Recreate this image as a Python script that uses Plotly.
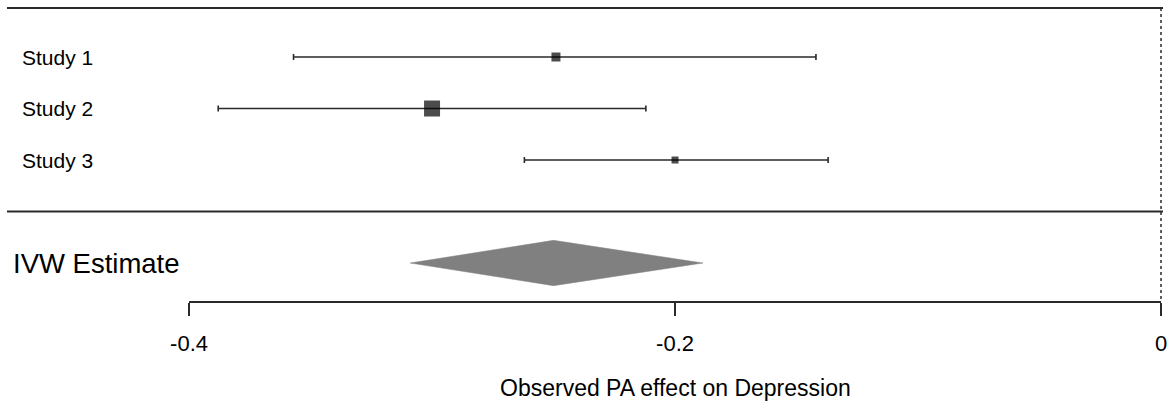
import plotly.graph_objects as go

# ---- data ----
studies = ["Study 1", "Study 2", "Study 3"]
estimates = [-0.249, -0.300, -0.200]
ci_low = [-0.357, -0.388, -0.262]
ci_high = [-0.142, -0.212, -0.137]
marker_sizes = [9, 16, 7]

pooled_label = "IVW Estimate"
pooled_est = -0.250
pooled_low = -0.309
pooled_high = -0.1885

tick_vals = [-0.4, -0.2, 0]
tick_text = ["-0.4", "-0.2", "0"]
x_title = "Observed PA effect on Depression"

FONT = "Liberation Sans, Arial, sans-serif"
LINE = "#2a2a2a"

rows = [1, 2, 3]
pooled_row = 5
diamond_half = 0.44

fig = go.Figure()

# confidence intervals
fig.add_trace(go.Scatter(
    x=estimates, y=rows, mode="markers",
    marker=dict(size=0, opacity=0),
    error_x=dict(type="data", symmetric=False,
                 array=[h - e for h, e in zip(ci_high, estimates)],
                 arrayminus=[e - l for e, l in zip(estimates, ci_low)],
                 color=LINE, thickness=1.6, width=3),
    showlegend=False, hoverinfo="skip"))

# point estimates (on top)
fig.add_trace(go.Scatter(
    x=estimates, y=rows, mode="markers",
    marker=dict(symbol="square", size=marker_sizes, color="black", line=dict(width=0)),
    showlegend=False, hoverinfo="skip"))

# pooled diamond
fig.add_trace(go.Scatter(
    x=[pooled_low, pooled_est, pooled_high, pooled_est, pooled_low],
    y=[pooled_row, pooled_row - diamond_half, pooled_row, pooled_row + diamond_half, pooled_row],
    mode="lines", fill="toself", fillcolor="#808080",
    line=dict(color="#808080", width=0.5),
    showlegend=False, hoverinfo="skip"))

for s, r in zip(studies, rows):
    fig.add_annotation(x=20/1170, xref="paper", y=r, yref="y", text=s,
                       xanchor="left", yanchor="middle", showarrow=False,
                       font=dict(family=FONT, size=21, color="black"))
fig.add_annotation(x=11/1170, xref="paper", y=pooled_row, yref="y", text=pooled_label,
                   xanchor="left", yanchor="middle", showarrow=False,
                   font=dict(family=FONT, size=27.5, color="black"))

# axis title centred under the axis
fig.add_annotation(x=(tick_vals[0] + tick_vals[-1]) / 2, xref="x", y=-86/302, yref="paper",
                   text=x_title, xanchor="center", yanchor="middle", showarrow=False,
                   font=dict(family=FONT, size=23, color="black"))

# frame lines
for yy in [0.05, 4.0]:
    fig.add_shape(type="line", xref="paper", yref="y", x0=7/1170, x1=1163/1170,
                  y0=yy, y1=yy, line=dict(color=LINE, width=2))
# dotted null line
fig.add_shape(type="line", xref="x", yref="y", x0=0, x1=0, y0=0.05, y1=5.757,
              line=dict(color=LINE, width=1.5, dash="dot"))
# axis line
fig.add_shape(type="line", xref="x", yref="paper", x0=tick_vals[0], x1=tick_vals[-1],
              y0=0, y1=0, line=dict(color=LINE, width=2))

fig.update_layout(
    width=1170, height=403,
    margin=dict(l=0, r=0, t=0, b=101),
    plot_bgcolor="white", paper_bgcolor="white",
    xaxis=dict(range=[-0.4778, 0.0037], showgrid=False, zeroline=False, showline=False,
               tickmode="array", tickvals=tick_vals, ticktext=tick_text,
               ticks="outside", ticklen=13, tickwidth=2, tickcolor=LINE,
               ticklabelstandoff=9,
               tickfont=dict(family=FONT, size=22, color="black")),
    yaxis=dict(range=[5.757, -0.107], visible=False, showgrid=False, zeroline=False),
)

fig.write_html("out.html")
